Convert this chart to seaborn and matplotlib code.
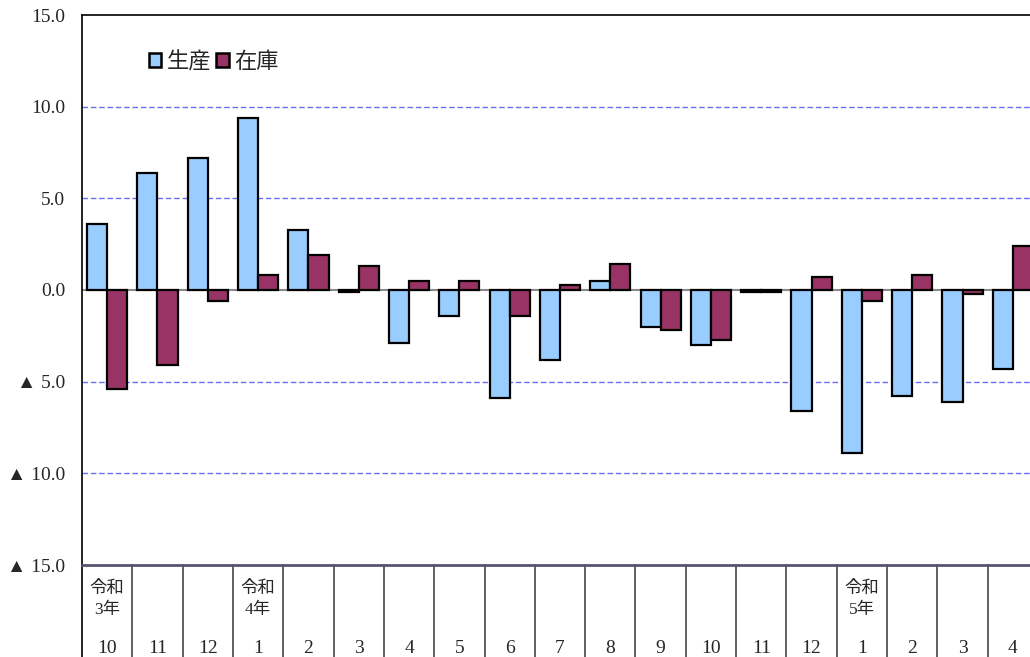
import matplotlib
matplotlib.use("Agg")
import matplotlib.pyplot as plt
import numpy as np
import pandas as pd
import seaborn as sns

# data (前年同月比, %)
months = ["10", "11", "12", "1", "2", "3", "4", "5", "6", "7", "8", "9",
          "10", "11", "12", "1", "2", "3", "4"]
year_labels = {0: "令和\n3年", 3: "令和\n4年", 15: "令和\n5年"}
seisan = [3.6, 6.4, 7.2, 9.4, 3.3, -0.1, -2.9, -1.4, -5.9, -3.8, 0.5, -2.0,
          -3.0, -0.1, -6.6, -8.9, -5.8, -6.1, -4.3]
zaiko = [-5.4, -4.1, -0.6, 0.8, 1.9, 1.3, 0.5, 0.5, -1.4, 0.3, 1.4, -2.2,
         -2.7, -0.1, 0.7, -0.6, 0.8, -0.2, 2.4]
yticks = [-15, -10, -5, 0, 5, 10, 15]
ytick_labels = ["▲ 15.0", "▲ 10.0", "▲ 5.0", "0.0", "5.0", "10.0", "15.0"]

sns.set_theme(style="white")
plt.rcParams['font.family'] = ['Liberation Serif', 'Noto Sans CJK JP', 'DejaVu Sans']

keys = [f"p{i}" for i in range(len(months))]
df = pd.DataFrame({
    'period': keys * 2,
    'value': seisan + zaiko,
    'series': ['生産'] * len(keys) + ['在庫'] * len(keys),
})

fig = plt.figure(figsize=(10.3, 6.57), dpi=100)
ax = fig.add_axes([82 / 1030, 92 / 657, 956 / 1030, 550 / 657])

for y in [-10, -5, 5, 10]:
    ax.axhline(y, color='#6c6cf0', lw=1, ls=(0, (4, 2)), zorder=0)
ax.axhline(0, color='#8a8a8a', lw=1.5, zorder=1)

sns.barplot(data=df, x='period', y='value', hue='series', order=keys,
            hue_order=['生産', '在庫'], palette=['#99ccff', '#993366'],
            saturation=1, edgecolor='black', linewidth=1.6, width=0.8,
            ax=ax, zorder=2, errorbar=None)

ax.set_xlim(-0.5, len(keys) - 0.5)
ax.set_ylim(-15, 15)
ax.set_yticks(yticks)
ax.set_yticklabels(ytick_labels, fontsize=14)
ax.tick_params(axis='y', direction='in', length=4, width=1, color='black', pad=12)
ax.set_xticks([])
ax.set_xlabel('')
ax.set_ylabel('')

for s in ['left', 'top']:
    ax.spines[s].set_color('black')
    ax.spines[s].set_linewidth(1.2)
ax.spines['right'].set_visible(False)
ax.spines['bottom'].set_color('#555570')
ax.spines['bottom'].set_linewidth(2)

# category table below the axis
ax.plot([-0.5, -0.5], [-15, -20.2], color='black', lw=1.2, clip_on=False)
for i in range(1, len(keys)):
    ax.plot([i - 0.5, i - 0.5], [-15, -20.2], color='#606060', lw=1.4,
            clip_on=False)
for i, m in enumerate(months):
    ax.text(i, -19.55, m, ha='center', va='center', fontsize=14, clip_on=False)
    if i in year_labels:
        ax.text(i, -16.9, year_labels[i], ha='center', va='center',
                fontsize=12.5, linespacing=1.4, clip_on=False)

leg = ax.legend(loc='upper left', bbox_to_anchor=(0.058, 0.953), ncol=2,
                frameon=False, fontsize=16, handlelength=0.55,
                handleheight=0.6, handletextpad=0.25, columnspacing=0.25,
                borderpad=0)
for h in leg.legend_handles:
    h.set_edgecolor('black')
    h.set_linewidth(1.8)

fig.savefig('out.png', dpi=100)
